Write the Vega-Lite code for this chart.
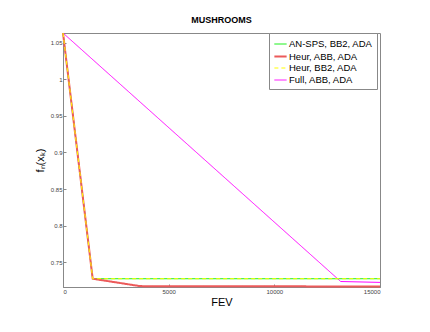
{
  "$schema": "https://vega.github.io/schema/vega-lite/v6.json",
  "width": 317,
  "height": 254,
  "autosize": {"type": "none"},
  "padding": {"left": 63, "top": 33, "right": 50, "bottom": 45},
  "background": "white",
  "title": {"text": "MUSHROOMS", "font": "Liberation Sans", "fontSize": 9, "fontWeight": "bold", "color": "#000", "offset": 4},
  "data": {"values": [
    {"s": "AN-SPS, BB2, ADA", "fev": 0, "f": 1.0633},
    {"s": "AN-SPS, BB2, ADA", "fev": 1405, "f": 0.7275},
    {"s": "AN-SPS, BB2, ADA", "fev": 15000, "f": 0.7275},
    {"s": "Heur, ABB, ADA", "fev": 0, "f": 1.0633},
    {"s": "Heur, ABB, ADA", "fev": 1405, "f": 0.7275},
    {"s": "Heur, ABB, ADA", "fev": 3640, "f": 0.7174},
    {"s": "Heur, ABB, ADA", "fev": 15000, "f": 0.7169},
    {"s": "Heur, BB2, ADA", "fev": 0, "f": 1.0633},
    {"s": "Heur, BB2, ADA", "fev": 1405, "f": 0.7275},
    {"s": "Heur, BB2, ADA", "fev": 15000, "f": 0.7275},
    {"s": "Full, ABB, ADA", "fev": 0, "f": 1.0633},
    {"s": "Full, ABB, ADA", "fev": 13140, "f": 0.7237},
    {"s": "Full, ABB, ADA", "fev": 15000, "f": 0.7225}
  ]},
  "encoding": {
    "x": {"field": "fev", "type": "quantitative", "title": "FEV",
      "scale": {"domain": [0, 15000], "nice": false, "zero": false},
      "axis": {"values": [0, 5000, 10000, 15000], "format": "d", "grid": false}},
    "y": {"field": "f", "type": "quantitative", "title": "fₙ(xₖ)",
      "scale": {"domain": [0.7162, 1.0633], "nice": false, "zero": false},
      "axis": {"values": [0.75, 0.8, 0.85, 0.9, 0.95, 1, 1.05], "format": "~g", "grid": false,
        "titleX": -23, "titleY": 127, "titleAlign": "center", "titleBaseline": "middle", "titleAngle": -90}},
    "color": {"field": "s", "type": "nominal", "title": null,
      "scale": {"domain": ["AN-SPS, BB2, ADA", "Heur, ABB, ADA", "Heur, BB2, ADA", "Full, ABB, ADA"],
        "range": ["#00ee00", "#ec5a5a", "#ffff00", "#ff00ff"]},
      "legend": {"orient": "none", "legendX": 206, "legendY": 0, "symbolType": "stroke", "symbolSize": 150,
        "labelFont": "Liberation Sans", "labelFontSize": 9.5, "labelColor": "#000", "strokeColor": "#888",
        "padding": 4, "rowPadding": 0, "fillColor": "white", "labelOffset": 1}},
    "strokeDash": {"field": "s", "type": "nominal", "title": null,
      "scale": {"domain": ["AN-SPS, BB2, ADA", "Heur, ABB, ADA", "Heur, BB2, ADA", "Full, ABB, ADA"],
        "range": [[1, 0], [1, 0], [4, 3], [1, 0]]}},
    "strokeWidth": {"field": "s", "type": "ordinal", "title": null,
      "scale": {"type": "ordinal", "domain": ["AN-SPS, BB2, ADA", "Heur, ABB, ADA", "Heur, BB2, ADA", "Full, ABB, ADA"],
        "range": [1, 2, 1, 1]}}
  },
  "layer": [
    {"transform": [{"filter": "datum.s === 'Full, ABB, ADA'"}], "mark": {"type": "line"}},
    {"transform": [{"filter": "datum.s === 'AN-SPS, BB2, ADA'"}], "mark": {"type": "line"}},
    {"transform": [{"filter": "datum.s === 'Heur, ABB, ADA'"}], "mark": {"type": "line"}},
    {"transform": [{"filter": "datum.s === 'Heur, BB2, ADA'"}], "mark": {"type": "line"}}
  ],
  "config": {
    "view": {"stroke": "#888", "strokeWidth": 1},
    "axis": {"domainColor": "#888", "tickColor": "#888", "tickSize": -3, "labelFont": "Liberation Sans",
      "labelFontSize": 6, "labelColor": "#444", "labelPadding": 4, "titleFont": "Liberation Sans",
      "titleFontSize": 11, "titleFontWeight": "normal", "titleColor": "#000", "titlePadding": 2}
  }
}
